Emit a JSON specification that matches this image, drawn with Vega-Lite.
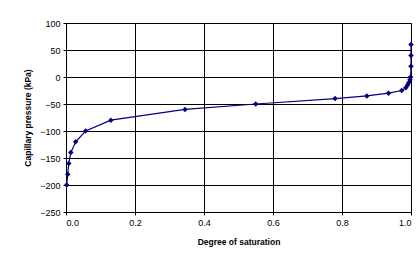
{
  "$schema": "https://vega.github.io/schema/vega-lite/v6.json",
  "width": 345,
  "height": 189,
  "autosize": {"type": "none"},
  "padding": {"left": 66, "top": 23, "right": 7, "bottom": 50},
  "background": "white",
  "config": {
    "view": {"stroke": "#808080", "strokeWidth": 1},
    "font": "Liberation Sans",
    "axis": {
      "labelFont": "Liberation Sans",
      "labelFontSize": 9,
      "labelColor": "black",
      "titleFont": "Liberation Sans",
      "titleFontSize": 8.5,
      "titleFontWeight": "bold",
      "titleColor": "black",
      "domainColor": "black",
      "tickColor": "black",
      "tickSize": 3,
      "gridColor": "black",
      "gridOpacity": 1,
      "gridWidth": 1
    }
  },
  "data": {
    "values": [
      {"s": 0.002, "p": -200},
      {"s": 0.005, "p": -180},
      {"s": 0.008, "p": -160},
      {"s": 0.014, "p": -140},
      {"s": 0.028, "p": -120},
      {"s": 0.057, "p": -100},
      {"s": 0.13, "p": -80},
      {"s": 0.345, "p": -60},
      {"s": 0.55, "p": -50},
      {"s": 0.78, "p": -40},
      {"s": 0.872, "p": -35},
      {"s": 0.935, "p": -30},
      {"s": 0.973, "p": -25},
      {"s": 0.985, "p": -20},
      {"s": 0.99, "p": -15},
      {"s": 0.994, "p": -10},
      {"s": 0.997, "p": -5},
      {"s": 0.999, "p": 0},
      {"s": 1.0, "p": 20},
      {"s": 1.0, "p": 40},
      {"s": 1.0, "p": 60}
    ]
  },
  "encoding": {
    "x": {
      "field": "s",
      "type": "quantitative",
      "scale": {"domain": [0, 1], "nice": false},
      "axis": {
        "values": [0, 0.2, 0.4, 0.6, 0.8, 1.0],
        "format": ".1f",
        "title": "Degree of saturation",
        "labelPadding": 3,
        "titlePadding": 10
      }
    },
    "y": {
      "field": "p",
      "type": "quantitative",
      "scale": {"domain": [-250, 100], "nice": false, "zero": false},
      "axis": {
        "values": [-250, -200, -150, -100, -50, 0, 50, 100],
        "title": "Capillary pressure (kPa)",
        "labelPadding": 3,
        "titlePadding": 7
      }
    },
    "order": {"field": "p", "type": "quantitative"}
  },
  "layer": [
    {"mark": {"type": "line", "color": "#000080", "strokeWidth": 1.2}},
    {"mark": {"type": "point", "shape": "diamond", "filled": true, "color": "#000080", "size": 30, "opacity": 1}}
  ]
}
